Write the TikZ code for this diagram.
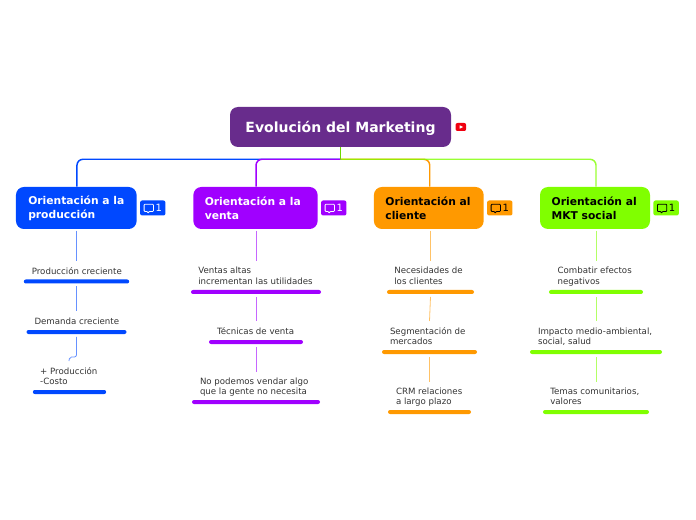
\documentclass[tikz,border=0pt]{standalone}
\usepackage{fontspec}
\setmainfont{DejaVu Sans}
\usetikzlibrary{positioning, calc}
\definecolor{MK_ROOT}{HTML}{682c8c}
\definecolor{MK_BLUE}{HTML}{0048ff}
\definecolor{MK_PURPLE}{HTML}{a000ff}
\definecolor{MK_ORANGE}{HTML}{ff9900}
\definecolor{MK_GREEN}{HTML}{80ff00}
\definecolor{MK_TEXT}{HTML}{333333}
\definecolor{MK_RED}{HTML}{f00010}
\tikzset{
  root/.style={
    rectangle, rounded corners=6pt,
    minimum width=165.75pt, minimum height=30pt, inner sep=0pt,
    text centered, align=center, text height=9.5pt, text depth=1pt,
    fill=MK_ROOT, text=white, font=\fontsize{10.5}{13}\selectfont\bfseries},
  topic/.style={
    rectangle, rounded corners=6pt,
    minimum height=31.5pt, inner sep=0pt,
    align=left,
    fill=#1, font=\fontsize{8.05}{10.5}\selectfont\bfseries},
  badge/.style={
    rectangle, rounded corners=1.5pt,
    minimum width=19pt, minimum height=11.25pt, inner sep=0pt,
    align=right, fill=#1, font=\fontsize{7.5}{9}\selectfont},
  bar/.style={
    rectangle, rounded corners=1.5pt,
    minimum height=3pt, inner sep=0pt, fill=#1},
  leaf/.style={
    inner sep=0pt, align=left, anchor=south west, text depth=1.5pt,
    text=MK_TEXT, font=\fontsize{6.47}{7.9}\selectfont},
  trunk/.style={line width=1.1pt, color=#1},
  bough/.style={line width=1.1pt, color=#1, rounded corners=4.5pt},
  twig/.style={line width=.6pt, color=#1!60},
  bubble/.style={draw=#1, line width=.6pt, line join=round},
}
\newcommand{\bubbleat}[3]{% node name, line colour, text colour
  \node[badge=#2, text=#3] (#1) {\hspace*{11.6pt}1\hspace*{2.6pt}};
  \draw[bubble=#3, rounded corners=.6pt]
    ($(#1.west)+(3.2pt,-2.6pt)$) -- ++(0,5.4pt) -- ++(7pt,0) -- ++(0,-5.4pt)
    -- ++(-3.4pt,0) -- ++(-.6pt,-1.5pt) -- ++(-.4pt,1.5pt) -- cycle;
}

\begin{document}
\begin{tikzpicture}[x=.75pt, y=-.75pt]
  \useasboundingbox (0,0) rectangle (696,520);

  \node[root] (evo) at (340.5,127) {Evolución del Marketing};
  \node[rectangle, rounded corners=1.5pt, minimum width=8pt, minimum height=6pt,
    inner sep=0pt, fill=MK_RED, right=3pt of evo] (video) {};
  \fill[white] ($(video.center)+(-1pt,-1.3pt)$) -- ++(2.6pt,1.3pt) -- ++(-2.6pt,1.3pt) -- cycle;

  % topics
  \node[topic=MK_BLUE, minimum width=90.5pt, text=white] (prod) at (76.3,208)
    {Orientación a la\\producción};
  \node[topic=MK_PURPLE, minimum width=93.2pt, text=white] (venta) at (255.5,208)
    {Orientación a la\hspace*{4pt}\\venta};
  \node[topic=MK_ORANGE, minimum width=82.3pt, text=black] (clie) at (428.8,208)
    {Orientación al\hspace*{1.2pt}\\cliente};
  \node[topic=MK_GREEN, minimum width=82.5pt, text=black] (soc) at (595,208)
    {Orientación al\hspace*{1.2pt}\\MKT social};

  \begin{scope}[every node/.append style={right=2.2pt of prod}]
    \bubbleat{prodc}{MK_BLUE}{white}
  \end{scope}
  \begin{scope}[every node/.append style={right=2.2pt of venta}]
    \bubbleat{ventac}{MK_PURPLE}{white}
  \end{scope}
  \begin{scope}[every node/.append style={right=2.2pt of clie}]
    \bubbleat{cliec}{MK_ORANGE}{black}
  \end{scope}
  \begin{scope}[every node/.append style={right=2.2pt of soc}]
    \bubbleat{socc}{MK_GREEN}{black}
  \end{scope}

  % branches from the root
  \coordinate[below=9pt of evo] (hub);
  \draw[bough=MK_BLUE] (hub) -| ([xshift=.5pt]prod.north);
  \draw[bough=MK_PURPLE] (hub) -| ([xshift=.4pt]venta.north);
  \draw[bough=MK_ORANGE] (hub) -| ([xshift=.7pt]clie.north);
  \draw[bough=MK_GREEN, opacity=.8] (hub) -| ([xshift=.75pt]soc.north);
  \draw[trunk=MK_GREEN!85!black] (evo.south) -- (hub);

  % produccion
  \node[bar=MK_BLUE, minimum width=79pt] (prod1) at (76.5,281.5) {};
  \node[leaf, above right=2.2pt and 6pt of prod1.north west] (prod1t) {Producción creciente};
  \node[bar=MK_BLUE, minimum width=75pt] (prod2) at (76.5,332) {};
  \node[leaf, above right=2.2pt and 6pt of prod2.north west] (prod2t) {Demanda creciente};
  \node[bar=MK_BLUE, minimum width=55pt] (prod3) at (69.5,392) {};
  \node[leaf, above right=2.2pt and 5.5pt of prod3.north west] (prod3t) {+ Producción\\-Costo};
  \coordinate (prod1c) at (76.8,261);
  \coordinate (prod2c) at (76.5,311);
  \coordinate (prod3c) at (69,361);
  \draw[twig=MK_BLUE] ([yshift=-1pt]prod.south -| prod1c) -- (prod1c);
  \draw[twig=MK_BLUE] ([yshift=-2pt]prod1.south) -- (prod2c);
  \draw[twig=MK_BLUE, rounded corners=1.5pt] ([yshift=-2pt]prod2.south) |- ++(-7,20) -- (prod3c);

  % venta
  \node[bar=MK_PURPLE, minimum width=97.5pt] (venta1) at (256,292) {};
  \node[leaf, above right=2.2pt and 5.5pt of venta1.north west] (venta1t) {Ventas altas\\incrementan las utilidades};
  \node[bar=MK_PURPLE, minimum width=70.5pt] (venta2) at (256,342) {};
  \node[leaf, above right=2.2pt and 6pt of venta2.north west] (venta2t) {Técnicas de venta};
  \node[bar=MK_PURPLE, minimum width=96pt] (venta3) at (256,402) {};
  \node[leaf, above right=2.2pt and 6pt of venta3.north west] (venta3t) {No podemos vendar algo\\que la gente no necesita};
  \coordinate (venta1c) at (256,261);
  \coordinate (venta2c) at (256,321);
  \coordinate (venta3c) at (256,372);
  \draw[twig=MK_PURPLE] ([yshift=-1pt]venta.south -| venta1c) -- (venta1c);
  \draw[twig=MK_PURPLE] ([yshift=-2pt]venta1.south) -- (venta2c);
  \draw[twig=MK_PURPLE] ([yshift=-2pt]venta2.south) -- (venta3c);

  % cliente
  \node[bar=MK_ORANGE, minimum width=65.25pt] (clie1) at (430.5,292) {};
  \node[leaf, above right=2.2pt and 5.5pt of clie1.north west] (clie1t) {Necesidades de\\los clientes};
  \node[bar=MK_ORANGE, minimum width=71.25pt] (clie2) at (429.5,352) {};
  \node[leaf, above right=2.2pt and 6pt of clie2.north west] (clie2t) {Segmentación de\\mercados};
  \node[bar=MK_ORANGE, minimum width=62.25pt] (clie3) at (429.5,412) {};
  \node[leaf, above right=2.2pt and 6pt of clie3.north west] (clie3t) {CRM relaciones\\a largo plazo};
  \coordinate (clie1c) at (430,261);
  \coordinate (clie2c) at (429.5,321);
  \coordinate (clie3c) at (429.5,382);
  \draw[twig=MK_ORANGE] ([yshift=-1pt]clie.south -| clie1c) -- (clie1c);
  \draw[twig=MK_ORANGE] ([yshift=-2pt]clie1.south) -- (clie2c);
  \draw[twig=MK_ORANGE] ([yshift=-2pt]clie2.south) -- (clie3c);

  % social
  \node[bar=MK_GREEN, minimum width=70.5pt] (soc1) at (596,292) {};
  \node[leaf, above right=2.2pt and 6.5pt of soc1.north west] (soc1t) {Combatir efectos\\negativos};
  \node[bar=MK_GREEN, minimum width=99pt] (soc2) at (596,352) {};
  \node[leaf, above right=2.2pt and 6pt of soc2.north west] (soc2t) {Impacto medio-ambiental,\\social, salud};
  \node[bar=MK_GREEN, minimum width=79.5pt] (soc3) at (596,412) {};
  \node[leaf, above right=2.2pt and 5.5pt of soc3.north west] (soc3t) {Temas comunitarios,\\valores};
  \coordinate (soc1c) at (596,261);
  \coordinate (soc2c) at (596,321);
  \coordinate (soc3c) at (596,382);
  \draw[twig=MK_GREEN] ([yshift=-1pt]soc.south -| soc1c) -- (soc1c);
  \draw[twig=MK_GREEN] ([yshift=-2pt]soc1.south) -- (soc2c);
  \draw[twig=MK_GREEN] ([yshift=-2pt]soc2.south) -- (soc3c);
\end{tikzpicture}
\end{document}
